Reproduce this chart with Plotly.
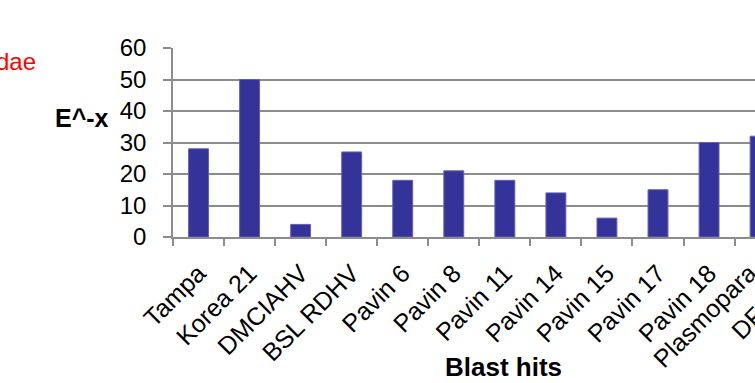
import plotly.graph_objects as go

categories = ["Tampa", "Korea 21", "DMCIAHV", "BSL RDHV", "Pavin 6", "Pavin 8",
              "Pavin 11", "Pavin 14", "Pavin 15", "Pavin 17", "Pavin 18", "Plasmopara"]
values = [28, 50, 4, 27, 18, 21, 18, 14, 6, 15, 30, 32]
cut_label = "DF"  # start of the next category label, cut off at the right edge
y_ticks = [0, 10, 20, 30, 40, 50, 60]

FONT = "Liberation Sans, Arial, sans-serif"
GRID = "#8c8c8c"
x_range = [-0.5, 10.9]
XFS = 25

fig = go.Figure()
fig.add_trace(go.Bar(
    x=categories, y=values,
    marker=dict(color="#333399", line=dict(color="#6262b2", width=1)),
    showlegend=False, cliponaxis=True,
))

fig.update_layout(
    width=755, height=383,
    margin=dict(l=173, r=0, t=48, b=146, autoexpand=False),
    paper_bgcolor="white", plot_bgcolor="white",
    bargap=0.61,
    font=dict(family=FONT, size=24, color="black"),
    xaxis=dict(
        type="category", range=x_range, automargin=False,
        showline=True, linecolor=GRID, linewidth=1.5,
        ticks="outside", tickson="boundaries", ticklen=7, tickcolor=GRID, tickwidth=1.5,
        tickangle=-45, tickfont=dict(size=XFS, family=FONT, color="black"),
        ticklabelstandoff=10,
        showgrid=False,
    ),
    yaxis=dict(
        range=[0, 60], tickvals=y_ticks, automargin=False,
        showgrid=True, gridcolor=GRID, gridwidth=1.5,
        showline=True, linecolor=GRID, linewidth=1.5,
        ticks="outside", ticklen=8, tickcolor=GRID, tickwidth=1.5,
        ticklabelstandoff=12,
        tickfont=dict(size=24, family=FONT, color="black"),
        zeroline=False,
    ),
)

span = x_range[1] - x_range[0]
# label of the last category, whose centre falls past the visible right edge
xp = (len(categories) - 1 - x_range[0]) / span
fig.add_annotation(
    x=xp, y=0, xref="paper", yref="paper",
    xanchor="right", yanchor="top", yshift=-19, xshift=4,
    text=categories[-1], textangle=-45, showarrow=False,
    font=dict(size=XFS, family=FONT, color="black"),
)
# the following (cut-off) category label
fig.add_annotation(
    x=0.945, y=-0.585, xref="paper", yref="paper",
    xanchor="left", yanchor="bottom",
    text=cut_label, textangle=-45, showarrow=False,
    font=dict(size=XFS, family=FONT, color="black"),
)

fig.add_annotation(x=-0.156, y=0.63, xref="paper", yref="paper",
                   xanchor="center", yanchor="middle",
                   text="<b>E^-x</b>", showarrow=False,
                   font=dict(size=25, family=FONT, color="black"))
fig.add_annotation(x=0.5687, y=-0.688, xref="paper", yref="paper",
                   xanchor="center", yanchor="middle",
                   text="<b>Blast hits</b>", showarrow=False,
                   font=dict(size=26, family=FONT, color="black"))
fig.add_annotation(x=-0.232, y=0.931, xref="paper", yref="paper",
                   xanchor="right", yanchor="middle", text="dae", showarrow=False,
                   font=dict(size=24, family=FONT, color="#ff0000"))

fig.write_html("out.html", config={"displayModeBar": False},
               post_script="document.body.style.margin='0px';")
